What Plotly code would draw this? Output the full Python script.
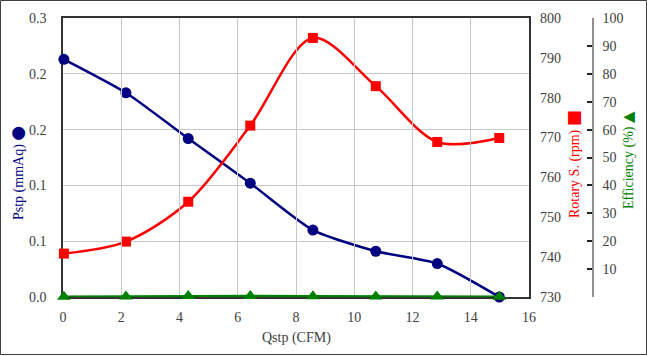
import plotly.graph_objects as go

qstp = [0.03, 2.16, 4.30, 6.43, 8.58, 10.74, 12.85, 14.98]
pstp = [0.213, 0.183, 0.142, 0.102, 0.060, 0.041, 0.030, 0.0]
rpm = [740.9, 743.9, 753.9, 773.0, 795.0, 782.9, 768.9, 769.9]
eff = [0.1, 0.2, 0.4, 0.4, 0.3, 0.2, 0.2, 0.1]

x_ticks = [0, 2, 4, 6, 8, 10, 12, 14, 16]
p_tickvals = [0, 0.05, 0.10, 0.15, 0.20, 0.25]
p_ticktext = ["0.0", "0.1", "0.1", "0.2", "0.2", "0.3"]
rpm_ticks = [730, 740, 750, 760, 770, 780, 790, 800]
eff_ticks = [10, 20, 30, 40, 50, 60, 70, 80, 90, 100]

BLUE = "#000080"
RED = "#ff0000"
GREEN = "#008000"
FONT = "Liberation Serif"
TICKC = "#404040"

fig = go.Figure()
fig.add_trace(go.Scatter(x=qstp, y=rpm, yaxis="y2", mode="lines+markers",
                         line=dict(color=RED, width=2.5, shape="spline", smoothing=0.9),
                         marker=dict(symbol="square", size=10, color=RED),
                         cliponaxis=False, showlegend=False))
fig.add_trace(go.Scatter(x=qstp, y=pstp, yaxis="y", mode="lines+markers",
                         line=dict(color=BLUE, width=2.5, shape="spline", smoothing=0.6),
                         marker=dict(symbol="circle", size=11, color=BLUE),
                         cliponaxis=False, showlegend=False))
fig.add_trace(go.Scatter(x=qstp, y=eff, yaxis="y3", mode="lines+markers",
                         line=dict(color=GREEN, width=2.5),
                         marker=dict(symbol="triangle-up", size=12, color=GREEN,
                                     line=dict(width=0)),
                         cliponaxis=False, showlegend=False))

W, H = 647, 356
L, T, B = 63, 18, 59
PLOT_R = 529      # right edge of plotting box (px)
EFF_X = 593       # efficiency axis line (px)
R = W - EFF_X
pw, ph = W - L - R, H - T - B

def px(x):
    return (x - L) / pw

def py(y):
    return (H - B - y) / ph

tf = dict(family=FONT, size=14, color=TICKC)

fig.update_layout(
    width=W, height=H,
    margin=dict(l=L, r=R, t=T, b=B, autoexpand=False),
    paper_bgcolor="white", plot_bgcolor="rgba(0,0,0,0)",
    font=dict(family=FONT, size=14, color=TICKC),
    xaxis=dict(domain=[0, px(PLOT_R)], range=[0, 16], tickvals=x_ticks, showgrid=True,
               gridcolor="#c8c8c8", gridwidth=1, showline=True, linecolor="#333333",
               linewidth=1.5, mirror=True, ticks="", zeroline=False, ticklabelstandoff=6,
               automargin=False, tickfont=tf, layer="below traces"),
    yaxis=dict(range=[0, 0.25], tickvals=p_tickvals, ticktext=p_ticktext,
               showgrid=True, gridcolor="#c8c8c8", gridwidth=1, showline=True,
               linecolor="#333333", linewidth=1.5, mirror=True, ticks="",
               zeroline=False, ticklabelstandoff=12, automargin=False, tickfont=tf,
               layer="below traces"),
    yaxis2=dict(range=[730, 800], tickvals=rpm_ticks, overlaying="y", side="right",
                showgrid=False, zeroline=False, showline=False, ticks="",
                ticklabelstandoff=10, automargin=False, tickfont=tf),
    yaxis3=dict(range=[0, 100], tickvals=eff_ticks, side="right", domain=[0, 1],
                anchor="free", position=1, showgrid=False, zeroline=False,
                showline=True, linecolor="#909090", linewidth=1.5,
                ticks="inside", ticklen=5, tickcolor="#202020", tickwidth=1.5,
                ticklabelstandoff=6, automargin=False, tickfont=tf),
)

fig.add_annotation(x=px(17), y=py(173), xref="paper", yref="paper",
                   text="Pstp (mmAq) <span style='font-family:DejaVu Sans;font-size:17px'>●</span>",
                   textangle=-90, showarrow=False, xanchor="center", yanchor="middle",
                   font=dict(family=FONT, size=14, color=BLUE))
fig.add_annotation(x=px(573), y=py(164), xref="paper", yref="paper",
                   text="Rotary S. (rpm) <span style='font-family:DejaVu Sans;font-size:17px'>■</span>",
                   textangle=-90, showarrow=False, xanchor="center", yanchor="middle",
                   font=dict(family=FONT, size=14, color=RED))
fig.add_annotation(x=px(628), y=py(160), xref="paper", yref="paper",
                   text="Efficiency (%) <span style='font-family:DejaVu Sans;font-size:15px'>▲</span>",
                   textangle=-90, showarrow=False, xanchor="center", yanchor="middle",
                   font=dict(family=FONT, size=14, color=GREEN))
fig.add_annotation(x=px((L + PLOT_R) / 2), y=py(338), xref="paper", yref="paper",
                   text="Qstp (CFM)", showarrow=False, xanchor="center", yanchor="middle",
                   font=dict(family=FONT, size=14, color=TICKC))

fig.add_shape(type="rect", xref="paper", yref="paper",
              x0=px(0.5), x1=px(646.5), y0=py(354.5), y1=py(0.5),
              line=dict(color="#404040", width=1), layer="below")

fig.write_html("out.html", config={"displayModeBar": False},
               post_script="document.body.style.margin='0';document.body.style.overflow='hidden';")
